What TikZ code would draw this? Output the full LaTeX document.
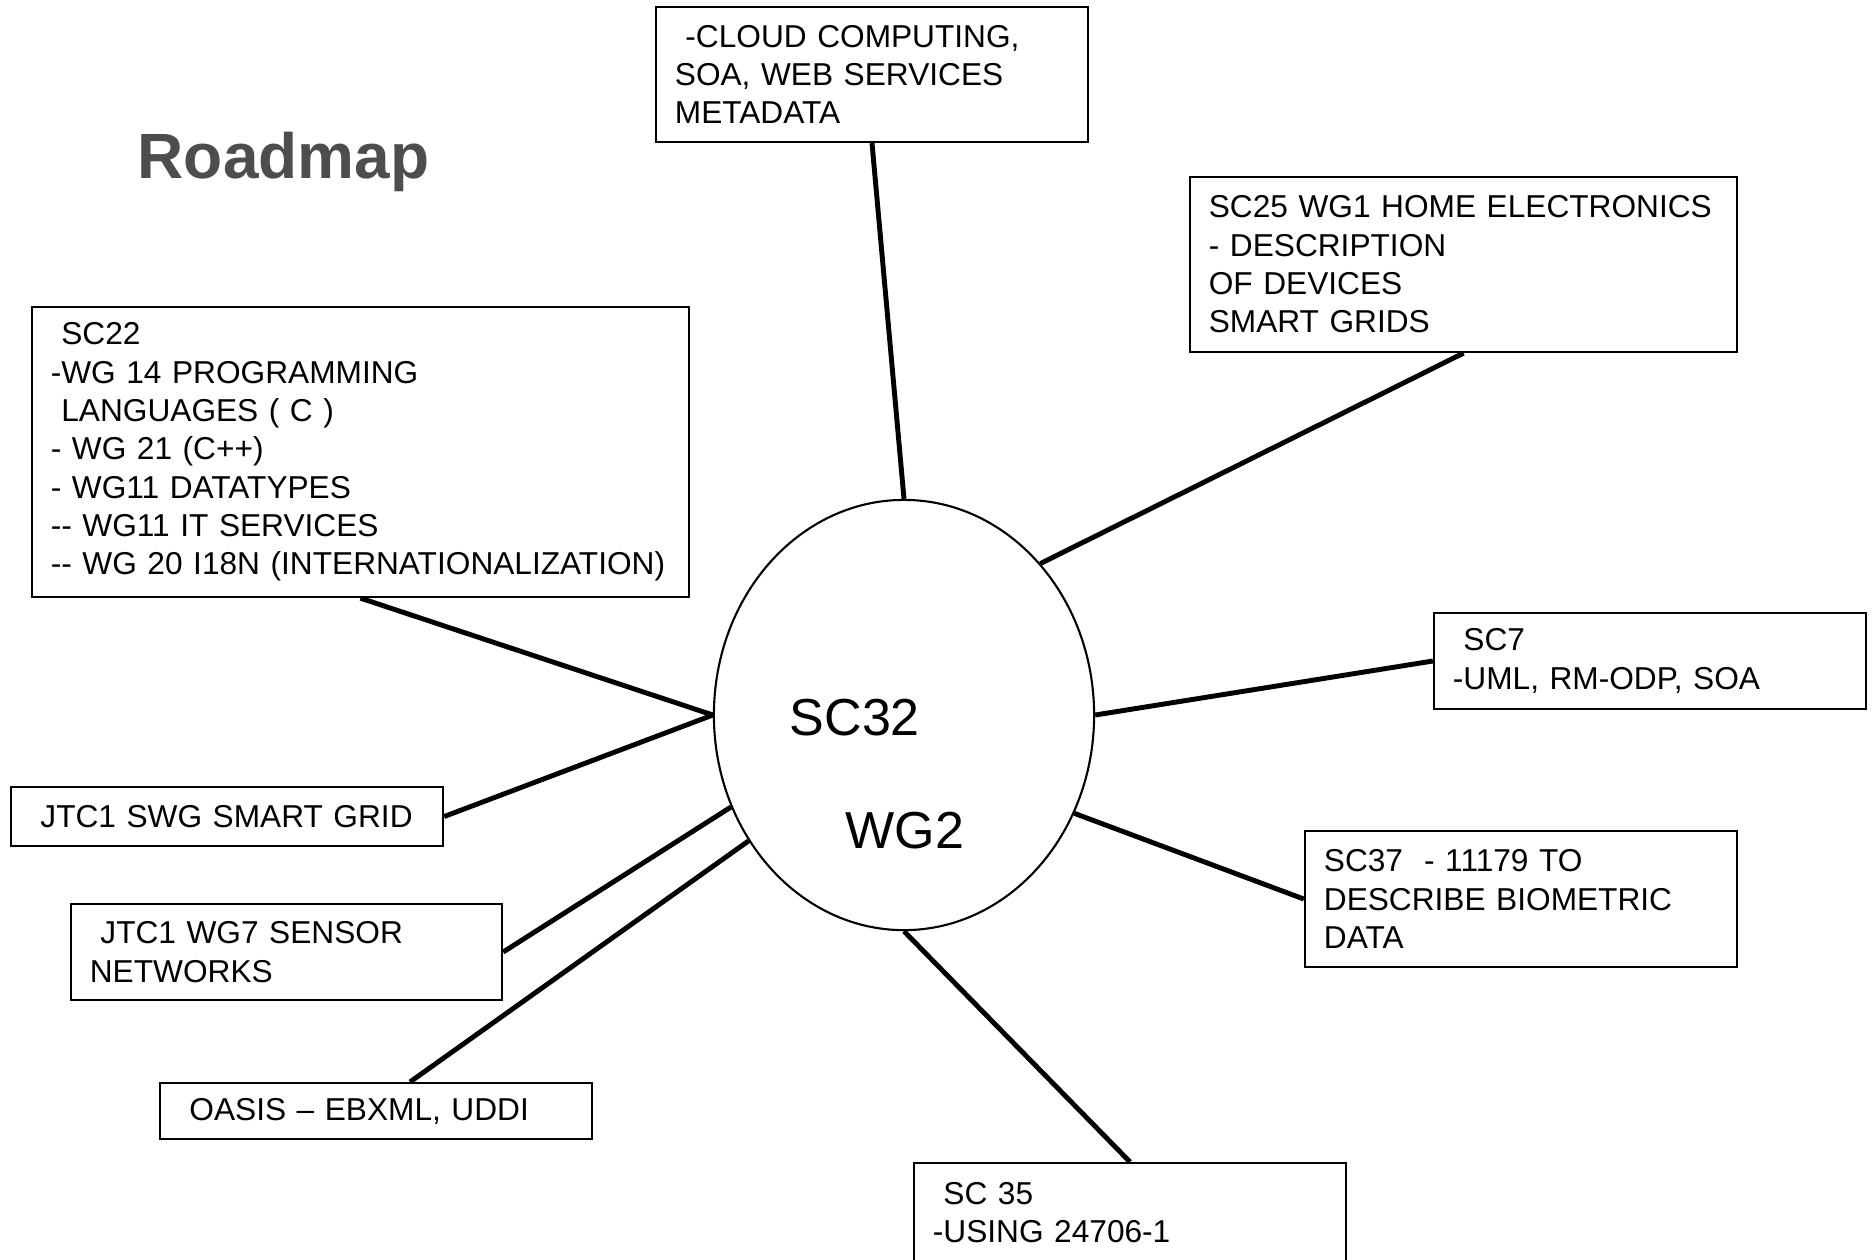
\documentclass[tikz,border=0pt]{standalone}
\usepackage{fontspec}
\setmainfont{Liberation Sans}
\usetikzlibrary{shapes.geometric}
\definecolor{titlegray}{HTML}{4D4D4D}
\tikzset{
	topic/.style={draw, line width=0.6pt, align=left, inner xsep=0.19cm, inner ysep=0pt, font=\fontsize{9}{10.9}\selectfont},
	hubtext/.style={anchor=base west, inner sep=0pt, font=\fontsize{14.8}{17}\selectfont},
	link/.style={line width=1.4pt},
}

\begin{document}
\begin{tikzpicture}[x=0.01cm, y=-0.01cm]
		%%%%% START %%%%%
		\useasboundingbox (0,0) rectangle (1876,1259);
		
		\node[anchor=base west, inner sep=0pt, text=titlegray, font=\fontsize{18.2}{22}\selectfont\bfseries] (title) at (137,178) {Roadmap};
		
		\node[draw, ellipse, line width=0.6pt, minimum width=3.8cm, minimum height=4.3cm, inner sep=0pt] (hub) at (904,715) {};
		\node[hubtext] (sc32) at (789,735) {SC32};
		\node[hubtext] (wg2) at (845,848) {WG2};
		
		\node[topic, text width=3.94cm, minimum height=1.35cm] (cloud) at (872,74.5) {~-CLOUD COMPUTING,\\SOA, WEB SERVICES\\METADATA};
		\node[topic, text width=5.09cm, minimum height=1.75cm] (sc25) at (1463.5,264.5) {SC25 WG1 HOME ELECTRONICS\\- DESCRIPTION\\OF DEVICES\\SMART GRIDS};
		\node[topic, text width=6.19cm, minimum height=2.9cm] (sc22) at (360.5,452) {~SC22\\-WG 14 PROGRAMMING\\~LANGUAGES ( C )\\- WG 21 (C++)\\- WG11 DATATYPES\\-{}- WG11 IT SERVICES\\-{}- WG 20 I18N (INTERNATIONALIZATION)};
		\node[topic, text width=3.94cm, minimum height=0.96cm] (sc7) at (1650,661) {~SC7\\-UML, RM-ODP, SOA};
		\node[topic, text width=3.94cm, minimum height=0.59cm] (swg) at (227,816.5) {~JTC1 SWG SMART GRID};
		\node[topic, text width=3.93cm, minimum height=0.96cm] (wg7) at (286.5,952) {~JTC1 WG7 SENSOR\\NETWORKS};
		\node[topic, text width=3.94cm, minimum height=0.56cm] (oasis) at (376,1111) {~OASIS – EBXML, UDDI};
		\node[topic, text width=3.94cm, minimum height=1.36cm] (sc37) at (1521,899) {SC37~ - 11179 TO\\DESCRIBE BIOMETRIC\\DATA};
		\node[topic, text width=3.94cm, minimum height=0.99cm] (sc35) at (1130,1212.5) {~SC 35\\-USING 24706-1};
		
		\draw[link] (cloud.south) -- (hub.north);
		\draw[link] (sc25.south) -- (hub.48);
		\draw[link] (sc22.south) -- (hub.west);
		\draw[link] (swg.east) -- (hub.west);
		\draw[link] (wg7.east) -- (hub.208);
		\draw[link] ([xshift=0.34cm]oasis.north) -- (hub.219);
		\draw[link] (sc7.west) -- (hub.east);
		\draw[link] (sc37.west) -- (hub.-30);
		\draw[link] (sc35.north) -- (hub.south);
		%%%%% END %%%%%
	\end{tikzpicture}
\end{document}
